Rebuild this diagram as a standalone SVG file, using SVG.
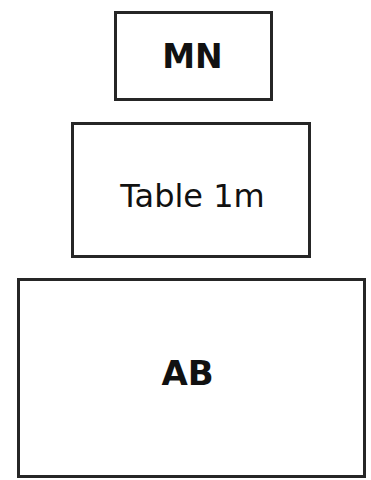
<svg xmlns="http://www.w3.org/2000/svg" width="371" height="480" viewBox="0 0 371 480">
<style>
.box{fill:#fff;stroke:#262626;stroke-width:3}
.t{font-family:"DejaVu Sans",Verdana,sans-serif;fill:#111;text-anchor:middle}
.b{font-weight:bold}
</style>
<rect width="371" height="480" fill="#fff"/>
<g id="mn">
<rect class="box" x="115.5" y="12.5" width="156" height="87"/>
<text class="t b" x="192.5" y="68" font-size="33">MN</text>
</g>
<g id="table1m">
<rect class="box" x="72.5" y="123.5" width="237" height="133"/>
<text class="t" x="192.5" y="207" font-size="32">Table 1m</text>
</g>
<g id="ab">
<rect class="box" x="18.5" y="279.5" width="346" height="197"/>
<text class="t b" x="187.5" y="385" font-size="34">AB</text>
</g>
<g id="connectors"/>
</svg>
